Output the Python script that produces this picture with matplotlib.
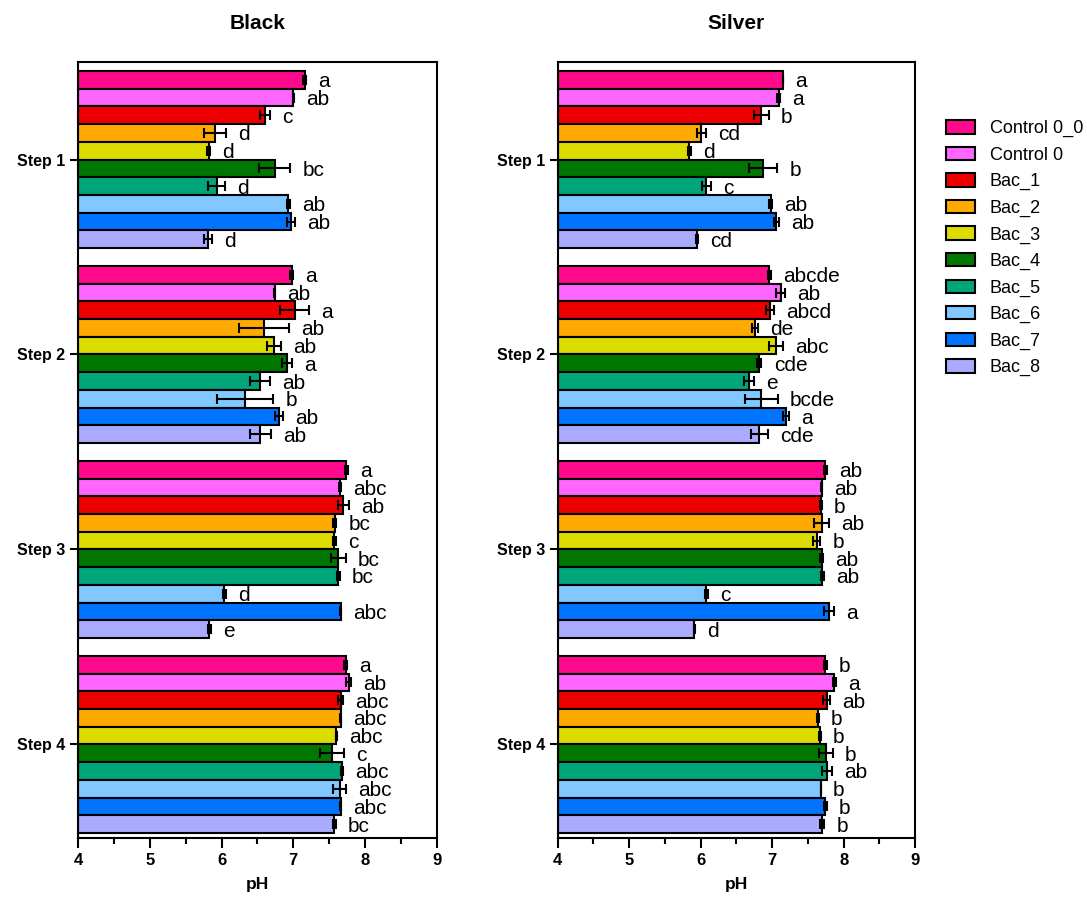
import numpy as np
import matplotlib
matplotlib.use("Agg")
import matplotlib.pyplot as plt
from matplotlib.patches import Patch

plt.rcParams["font.family"] = ["Liberation Sans", "DejaVu Sans"]

steps = ["Step 1", "Step 2", "Step 3", "Step 4"]
treatments = ["Control 0_0", "Control 0", "Bac_1", "Bac_2", "Bac_3",
              "Bac_4", "Bac_5", "Bac_6", "Bac_7", "Bac_8"]
colors = ["#FF0A8C", "#FF66FF", "#EE0000", "#FFAA00", "#DCDC00",
          "#007700", "#00A57A", "#80C8FF", "#0073FF", "#AAAAFF"]

# pH means, one row per step, one column per treatment
black_ph = [
    [7.16, 7.00, 6.60, 5.91, 5.82, 6.74, 5.93, 6.93, 6.97, 5.81],
    [6.98, 6.74, 7.02, 6.59, 6.73, 6.91, 6.53, 6.33, 6.80, 6.54],
    [7.74, 7.65, 7.70, 7.58, 7.57, 7.63, 7.63, 6.04, 7.66, 5.83],
    [7.73, 7.77, 7.66, 7.66, 7.60, 7.54, 7.68, 7.65, 7.66, 7.57],
]
black_sd = [
    [0.02, 0.01, 0.07, 0.15, 0.02, 0.22, 0.12, 0.02, 0.06, 0.06],
    [0.02, 0.01, 0.20, 0.35, 0.095, 0.07, 0.14, 0.39, 0.05, 0.15],
    [0.02, 0.01, 0.07, 0.02, 0.02, 0.10, 0.02, 0.02, 0.01, 0.02],
    [0.02, 0.03, 0.03, 0.01, 0.01, 0.17, 0.01, 0.09, 0.01, 0.02],
]
black_letters = [
    ["a", "ab", "c", "d", "d", "bc", "d", "ab", "ab", "d"],
    ["a", "ab", "a", "ab", "ab", "a", "ab", "b", "ab", "ab"],
    ["a", "abc", "ab", "bc", "c", "bc", "bc", "d", "abc", "e"],
    ["a", "ab", "abc", "abc", "abc", "c", "abc", "abc", "abc", "bc"],
]

silver_ph = [
    [7.15, 7.09, 6.85, 6.01, 5.84, 6.87, 6.08, 6.98, 7.06, 5.95],
    [6.96, 7.12, 6.97, 6.76, 7.05, 6.82, 6.68, 6.85, 7.19, 6.82],
    [7.74, 7.69, 7.68, 7.69, 7.62, 7.69, 7.70, 6.08, 7.80, 5.91],
    [7.74, 7.87, 7.76, 7.64, 7.67, 7.75, 7.76, 7.68, 7.74, 7.70],
]
silver_sd = [
    [0.00, 0.02, 0.10, 0.06, 0.02, 0.20, 0.06, 0.02, 0.04, 0.01],
    [0.02, 0.06, 0.05, 0.04, 0.10, 0.03, 0.07, 0.23, 0.045, 0.12],
    [0.02, 0.01, 0.01, 0.10, 0.05, 0.02, 0.02, 0.02, 0.07, 0.01],
    [0.02, 0.02, 0.05, 0.01, 0.01, 0.10, 0.07, 0.00, 0.02, 0.03],
]
silver_letters = [
    ["a", "a", "b", "cd", "d", "b", "c", "ab", "ab", "cd"],
    ["abcde", "ab", "abcd", "de", "abc", "cde", "e", "bcde", "a", "cde"],
    ["ab", "ab", "b", "ab", "b", "ab", "ab", "c", "a", "d"],
    ["b", "a", "ab", "b", "b", "b", "ab", "b", "b", "b"],
]

XMIN = 4
BAR_H = 0.0908
n_t = len(treatments)

fig = plt.figure(figsize=(10.87, 8.97), dpi=100)
ax_black = fig.add_axes([0.0718, 0.0658, 0.330, 0.865])
ax_silver = fig.add_axes([0.513, 0.0658, 0.329, 0.865])


def draw_panel(ax, title, values, errors, letters):
    for s in range(len(steps)):
        for t in range(n_t):
            y = s + (t - (n_t - 1) / 2) * BAR_H
            v = values[s][t]
            e = errors[s][t]
            ax.barh(y, v - XMIN, left=XMIN, height=BAR_H, color=colors[t],
                    edgecolor="black", linewidth=1.5, zorder=2)
            ax.errorbar(v, y, xerr=e, fmt="none", ecolor="black",
                        elinewidth=1.5, capsize=3.5, capthick=1.5, zorder=3)
            ax.text(v + e + 0.17, y + 0.01, letters[s][t], fontsize=15,
                    ha="left", va="center", zorder=4)
    ax.set_xlim(4, 9)
    ax.set_ylim(3.48, -0.5)
    ax.set_yticks(range(len(steps)))
    ax.set_yticklabels(steps, fontsize=11.5, fontweight="bold")
    ax.set_xticks(range(4, 10))
    ax.set_xticks(np.arange(4.5, 9, 1.0), minor=True)
    ax.set_xticklabels([str(v) for v in range(4, 10)], fontsize=12,
                       fontweight="bold")
    ax.tick_params(axis="x", which="major", direction="out", length=7,
                   width=1.5, pad=4)
    ax.tick_params(axis="x", which="minor", direction="out", length=4,
                   width=1.5)
    ax.tick_params(axis="y", which="major", direction="out", length=6,
                   width=1.5, pad=3)
    for sp in ax.spines.values():
        sp.set_linewidth(1.5)
    ax.set_xlabel("pH", fontsize=12.5, fontweight="bold", labelpad=6)
    ax.set_title(title, fontsize=15, fontweight="bold", pad=24)


draw_panel(ax_black, "Black", black_ph, black_sd, black_letters)
draw_panel(ax_silver, "Silver", silver_ph, silver_sd, silver_letters)

handles = [Patch(facecolor=c, edgecolor="black", linewidth=1.5, label=l)
           for c, l in zip(colors, treatments)]
fig.legend(handles=handles, loc="upper left",
           bbox_to_anchor=(0.864, 0.874), frameon=False, fontsize=13,
           handlelength=1.6, handleheight=0.75, handletextpad=0.8,
           labelspacing=0.52, borderaxespad=0)

fig.savefig("out.png", dpi=100)
